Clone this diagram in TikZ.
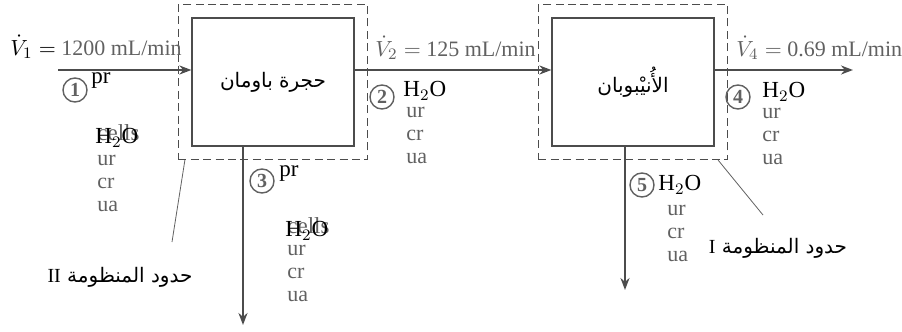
\documentclass[tikz,border=0pt]{standalone}
\usepackage{fontspec}
\setmainfont{Liberation Serif}
\newfontfamily\arabicfont[Script=Arabic]{DejaVu Sans}
\TeXXeTstate=1
\usetikzlibrary{arrows.meta,positioning,fit}
\definecolor{txtgray}{gray}{0.38}
\definecolor{linegray}{gray}{0.30}

\begin{document}
\begin{tikzpicture}[x=0.5pt,y=-0.5pt,
    unit/.style={draw=linegray,line width=0.6pt,minimum width=81pt,minimum height=64pt,inner sep=0pt,font=\arabicfont\fontsize{10}{12}\selectfont},
    sysbound/.style={draw=linegray,dash pattern=on 4pt off 2.2pt,line width=0.5pt,inner sep=6.5pt},
    stream/.style={-{Stealth[length=6pt,width=4.5pt]},draw=linegray,line width=1.1pt},
    leader/.style={draw=txtgray,line width=0.4pt},
    num/.style={circle,draw=txtgray,line width=0.7pt,minimum size=12pt,inner sep=0pt,text=txtgray,font=\fontsize{10}{10}\selectfont\bfseries},
    species/.style={anchor=west,inner sep=0pt,font=\fontsize{11.5}{12}\selectfont},
    complist/.style={anchor=north west,inner sep=0pt,align=left,text=txtgray,font=\fontsize{11}{11.5}\selectfont},
    rate/.style={anchor=west,inner sep=0pt,font=\fontsize{11}{13}\selectfont},
    bound/.style={inner sep=0pt,font=\arabicfont\fontsize{10}{12}\selectfont}
]
\useasboundingbox (0,0) rectangle (902,332);

% units and system boundaries
\node[unit] (bowman) at (273,82) {\beginR حجرة باومان\endR};
\node[unit] (tubule) at (633,82) {\beginR الأُنيْبوبان\endR};
\node[sysbound,fit=(bowman)] (sysII) {};
\node[sysbound,fit=(tubule)] (sysI) {};

% streams
\coordinate (in1) at (58,70);
\coordinate (out4) at (853,70);
\coordinate (out3) at (243,325);
\coordinate (out5) at (625,290);
\draw[stream] (in1) -- (in1 -| bowman.west);
\draw[stream] (in1 -| bowman.east) -- (in1 -| tubule.west);
\draw[stream] (in1 -| tubule.east) -- (out4);
\draw[stream] (out3 |- bowman.south) -- (out3);
\draw[stream] (out5 |- tubule.south) -- (out5);

% flow rates
\node[rate] (rate1) at (10,47) {$\dot{V}_1 =$ \textcolor{txtgray}{1200 mL/min}};
\node[rate,text=txtgray] (rate2) at (375,48) {$\dot{V}_2 =$ 125 mL/min};
\node[rate,text=txtgray] (rate4) at (736,48) {$\dot{V}_4 =$ 0.69 mL/min};

% stream 1
\node[num] (n1) at (75,90) {1};
\node[species] (s1pr) at (91,81) {pr};
\node[species,text=txtgray] (s1cells) at (97,133) {cells};
\node[species] (s1h) at (95,138) {H$_2$O};
\node[complist] (s1rest) at (97,155) {ur\\cr\\ua};
% stream 2
\node[num] (n2) at (382,97) {2};
\node[species] (s2h) at (403,91) {H$_2$O};
\node[complist] (s2rest) at (406,107) {ur\\cr\\ua};
% stream 3
\node[num] (n3) at (262,181) {3};
\node[species] (s3pr) at (279,174) {pr};
\node[species,text=txtgray] (s3cells) at (287,226) {cells};
\node[species] (s3h) at (285,231) {H$_2$O};
\node[complist] (s3rest) at (287,245) {ur\\cr\\ua};
% stream 4
\node[num] (n4) at (738,97) {4};
\node[species] (s4h) at (762,92) {H$_2$O};
\node[complist] (s4rest) at (762,108) {ur\\cr\\ua};
% stream 5
\node[num] (n5) at (642,185) {5};
\node[species] (s5h) at (658,185) {H$_2$O};
\node[complist] (s5rest) at (667,205) {ur\\cr\\ua};

% boundary labels
\node[bound] (lblII) at (120,277) {\beginR حدود المنظومة {\rmfamily II}\endR};
\node[bound] (lblI) at (778,248) {\beginR حدود المنظومة {\rmfamily I}\endR};
\coordinate (tipII) at (172,242);
\coordinate (tipI) at (763,215);
\draw[leader] ([xshift=3.5pt]sysII.south west) -- (tipII);
\draw[leader] ([xshift=-5pt]sysI.south east) -- (tipI);
\end{tikzpicture}
\end{document}
